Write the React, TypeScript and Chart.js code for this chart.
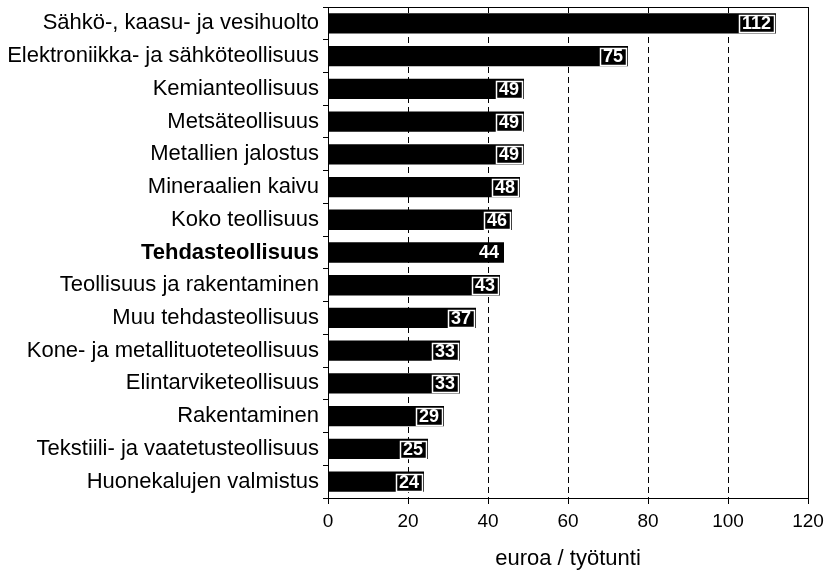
import React, { useEffect, useRef } from "react";
import { Chart, registerables } from "chart.js";

Chart.register(...registerables);

const categories = [
  "Sähkö-, kaasu- ja vesihuolto",
  "Elektroniikka- ja sähköteollisuus",
  "Kemianteollisuus",
  "Metsäteollisuus",
  "Metallien jalostus",
  "Mineraalien kaivu",
  "Koko teollisuus",
  "Tehdasteollisuus",
  "Teollisuus ja rakentaminen",
  "Muu tehdasteollisuus",
  "Kone- ja metallituoteteollisuus",
  "Elintarviketeollisuus",
  "Rakentaminen",
  "Tekstiili- ja vaatetusteollisuus",
  "Huonekalujen valmistus",
];

const values = [112, 75, 49, 49, 49, 48, 46, 44, 43, 37, 33, 33, 29, 25, 24];

const boldIndex = 7;
const xTicks = [0, 20, 40, 60, 80, 100, 120];
const dashedGrid = [20, 40, 60, 80, 100];
const axisTitle = "euroa / työtunti";
const FONT = "'Liberation Sans', Arial, sans-serif";

const gridPlugin = {
  id: "dashGrid",
  beforeDatasetsDraw(chart: any) {
    const { ctx, chartArea, scales } = chart;
    ctx.save();
    ctx.strokeStyle = "#000";
    ctx.lineWidth = 1;
    ctx.setLineDash([6, 4]);
    for (const v of dashedGrid) {
      const x = Math.round(scales.x.getPixelForValue(v)) + 0.5;
      ctx.beginPath();
      ctx.moveTo(x, chartArea.top);
      ctx.lineTo(x, chartArea.bottom);
      ctx.stroke();
    }
    ctx.restore();
  },
  afterDatasetsDraw(chart: any) {
    const { ctx, chartArea } = chart;
    ctx.save();
    const meta = chart.getDatasetMeta(0);
    ctx.font = `bold 18px ${FONT}`;
    ctx.textAlign = "right";
    ctx.textBaseline = "middle";
    meta.data.forEach((el: any, i: number) => {
      const txt = String(values[i]);
      const right = el.x - 5;
      const w = ctx.measureText(txt).width;
      ctx.fillStyle = "#fff";
      ctx.fillText(txt, right, el.y + 1);
      if (i !== boldIndex) {
        ctx.strokeStyle = "#fff";
        ctx.lineWidth = 1.5;
        ctx.strokeRect(Math.round(right - w - 3) + 0.5, Math.round(el.y - 8) + 0.5, Math.round(w + 6), 17);
      }
    });
    ctx.strokeStyle = "#000";
    ctx.lineWidth = 1;
    ctx.setLineDash([]);
    ctx.strokeRect(
      Math.round(chartArea.left) + 0.5,
      Math.round(chartArea.top) + 0.5,
      Math.round(chartArea.right - chartArea.left),
      Math.round(chartArea.bottom - chartArea.top)
    );
    ctx.restore();
  },
};

export default function App() {
  const ref = useRef<HTMLCanvasElement | null>(null);
  useEffect(() => {
    if (!ref.current) return;
    const chart = new Chart(ref.current, {
      type: "bar",
      data: {
        labels: categories,
        datasets: [
          {
            data: values,
            backgroundColor: "#000",
            borderWidth: 0,
            barPercentage: 0.62,
            categoryPercentage: 1,
          },
        ],
      },
      options: {
        indexAxis: "y",
        animation: false,
        responsive: true,
        maintainAspectRatio: false,
        layout: { padding: { top: 7, right: 23, left: 0, bottom: 0 } },
        plugins: { legend: { display: false }, tooltip: { enabled: false } },
        scales: {
          x: {
            min: 0,
            max: 120,
            afterBuildTicks: (s: any) => {
              s.ticks = xTicks.map((v) => ({ value: v }));
            },
            afterFit: (s: any) => {
              s.height = 72;
              s.paddingLeft = 0;
              s.paddingRight = 0;
            },
            grid: {
              drawOnChartArea: false,
              drawTicks: true,
              tickLength: 6,
              color: "#000",
            },
            border: { display: true, color: "#000" },
            ticks: {
              color: "#000",
              padding: 6,
              maxRotation: 0,
              font: { family: FONT, size: 19 },
            },
            title: {
              display: true,
              text: axisTitle,
              color: "#000",
              font: { family: FONT, size: 22, lineHeight: 1 },
              padding: { top: 0, bottom: 0 },
            },
          },
          y: {
            afterFit: (s: any) => {
              s.width = 328;
              s.paddingTop = 0;
              s.paddingBottom = 0;
            },
            grid: {
              drawOnChartArea: false,
              drawTicks: true,
              tickLength: 5,
              color: "#000",
            },
            border: { display: true, color: "#000" },
            ticks: {
              color: "#000",
              padding: 4,
              autoSkip: false,
              font: (c: any) => ({
                family: FONT,
                size: 22,
                weight: c.index === boldIndex ? "bold" : "normal",
              }),
            },
          },
        },
      },
      plugins: [gridPlugin],
    });
    return () => chart.destroy();
  }, []);
  return (
    <div style={{ position: "fixed", left: 0, top: 0, width: 831, height: 570, background: "#fff" }}>
      <canvas ref={ref} />
    </div>
  );
}
